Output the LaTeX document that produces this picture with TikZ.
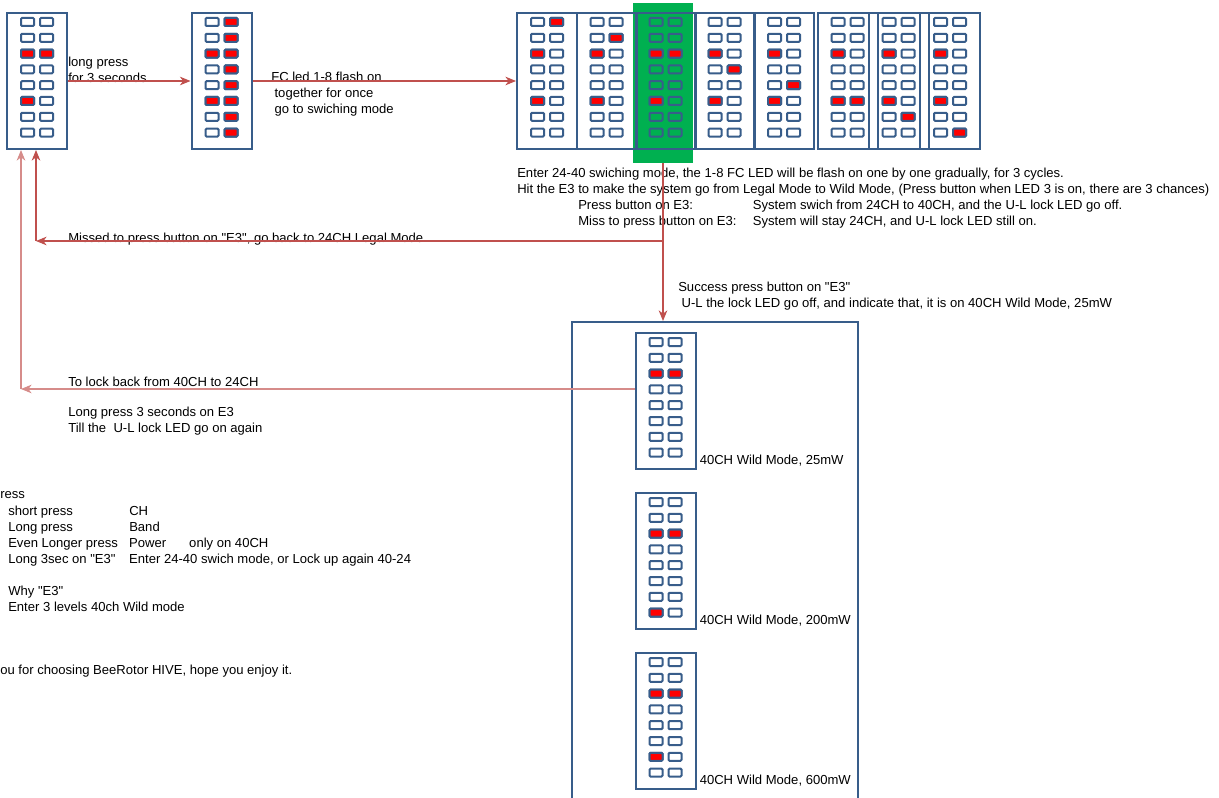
\documentclass[tikz,border=0pt]{standalone}
\usepackage{fontspec}
\setmainfont{Liberation Sans}[Ligatures=TeXOff]
\usepackage{tikz}
\usetikzlibrary{arrows.meta,positioning,calc}
\definecolor{panelblue}{RGB}{56,93,138}
\definecolor{linkred}{RGB}{192,80,77}
\definecolor{lockred}{RGB}{214,140,138}
\definecolor{ledred}{RGB}{255,0,0}
\definecolor{swgreen}{RGB}{0,176,80}

% one FC panel: name, x, y, lit leds (side/row), led fill
\newcommand{\ledpanel}[5]{%
  \node[panel] (#1) at (#2,#3) {};
  \foreach \r in {1,...,8}{
    \node[led, fill=#5] at ($(#1.north)+(-9.5,{10+15.8*(\r-1)})$) {};
    \node[led, fill=#5] at ($(#1.north)+(9.5,{10+15.8*(\r-1)})$) {};
  }
  \foreach \s/\r in {#4}{
    \node[led, fill=ledred] at ($(#1.north)+({9.5*\s},{10+15.8*(\r-1)})$) {};
  }
}

\begin{document}
\begin{tikzpicture}[x=0.75pt, y=-0.75pt,
  every node/.style={font=\fontsize{9.8}{12}\selectfont},
  panel/.style={draw=panelblue, line width=1.5pt, minimum width=45pt, minimum height=102pt, inner sep=0},
  led/.style={draw=panelblue, line width=1.5pt, rounded corners=0.8pt, minimum width=9.75pt, minimum height=6pt, inner sep=0},
  txt/.style={inner sep=0, anchor=north west, align=left},
  link/.style={draw=linkred, line width=0.8pt, -{Stealth[length=8pt,width=6.5pt,inset=2.5pt]}},
  lock/.style={link, draw=lockred}]
\useasboundingbox (0,0) rectangle (1219,798);
\clip (0,0) rectangle (1219,798);

% switching background
\node[fill=swgreen, minimum width=45pt, minimum height=120pt, inner sep=0] (swbg) at (663,83) {};

% panels, top row
\ledpanel{idle}{37}{81}{-1/3,1/3,-1/6}{white}
\ledpanel{flash}{221.5}{81}{-1/3,-1/6,1/1,1/2,1/3,1/4,1/5,1/6,1/7,1/8}{white}
\ledpanel{sw1}{547}{81}{-1/3,-1/6,1/1}{white}
\ledpanel{sw2}{606.5}{81}{-1/3,-1/6,1/2}{white}
\ledpanel{sw3}{665.5}{81}{-1/3,-1/6,1/3}{swgreen}
\ledpanel{sw4}{724.5}{81}{-1/3,-1/6,1/4}{white}
\ledpanel{sw5}{784}{81}{-1/3,-1/6,1/5}{white}
\ledpanel{sw6}{847.5}{81}{-1/3,-1/6,1/6}{white}
\ledpanel{sw7}{898.5}{81}{-1/3,-1/6,1/7}{white}
\ledpanel{sw8}{950}{81}{-1/3,-1/6,1/8}{white}

% wild mode
\node[panel, minimum width=214.5pt, minimum height=366pt] (wild) at (715,566) {};
\ledpanel{lvl1}{665.5}{401}{-1/3,1/3}{white}
\ledpanel{lvl2}{665.5}{561}{-1/3,1/3,-1/8}{white}
\ledpanel{lvl3}{665.5}{721}{-1/3,1/3,-1/7}{white}
\node[txt, anchor=west] (lvl1txt) at ($(lvl1.south east)+(3,-9)$) {40CH Wild Mode, 25mW};
\node[txt, anchor=west] (lvl2txt) at ($(lvl2.south east)+(3,-9)$) {40CH Wild Mode, 200mW};
\node[txt, anchor=west] (lvl3txt) at ($(lvl3.south east)+(3,-9)$) {40CH Wild Mode, 600mW};

% texts
\node[txt] (lp) at (68,57) {long press\\for 3 seconds};
\node[txt] (fc) at (271,72) {FC led 1-8 flash on\\\hspace*{2.5pt}together for once\\\hspace*{2.5pt}go to swiching mode};
\node[txt] (info) at (517,168) {Enter 24-40 swiching mode, the 1-8 FC LED will be flash on one by one gradually, for 3 cycles.\\
Hit the E3 to make the system go from Legal Mode to Wild Mode, (Press button when LED 3 is on, there are 3 chances)\\
\hspace*{45.75pt}\makebox[131pt][l]{Press button on E3:}System swich from 24CH to 40CH, and the U-L lock LED go off.\\
\hspace*{45.75pt}\makebox[131pt][l]{Miss to press button on E3:}System will stay 24CH, and U-L lock LED still on.};
\node[txt] (missed) at (68,233) {Missed to press button on "E3", go back to 24CH Legal Mode};
\node[txt] (success) at (678,282) {Success press button on "E3"\\\hspace*{2.5pt}U-L the lock LED go off, and indicate that, it is on 40CH Wild Mode, 25mW};
\node[txt] (lockback) at (68,377) {To lock back from 40CH to 24CH};
\node[txt] (lockhow) at (68,407) {Long press 3 seconds on E3\\Till the\ \ U-L lock LED go on again};
\node[txt] (press) at (0,491) {ress};
\node[txt] (legend) at (8,504) {\begin{tabular}{@{}p{90.75pt}@{}l@{}}
short press & CH\\
Long press & Band\\
Even Longer press & \makebox[45pt][l]{Power}only on 40CH\\
Long 3sec on "E3" & Enter 24-40 swich mode, or Lock up again 40-24\\
 & \\
\multicolumn{2}{@{}l@{}}{Why "E3"}\\
\multicolumn{2}{@{}l@{}}{Enter 3 levels 40ch Wild mode}\\
\end{tabular}};
\node[txt] (thanks) at (0,665) {ou for choosing BeeRotor HIVE, hope you enjoy it.};

% connectors
\coordinate (missend) at (36,241);
\coordinate (lockend) at (21,389);
\draw[link] (idle) -- (flash);
\draw[link] (flash) -- (sw1);
\draw[link] (swbg.south) -- (swbg.south |- wild.north);
\draw[link] (swbg.south |- missend) -- (missend);
\draw[link] (missend) -- (missend |- idle.south);
\draw[lock] (lvl1.west |- lockend) -- (lockend);
\draw[lock] (lockend) -- (lockend |- idle.south);
\end{tikzpicture}
\end{document}
